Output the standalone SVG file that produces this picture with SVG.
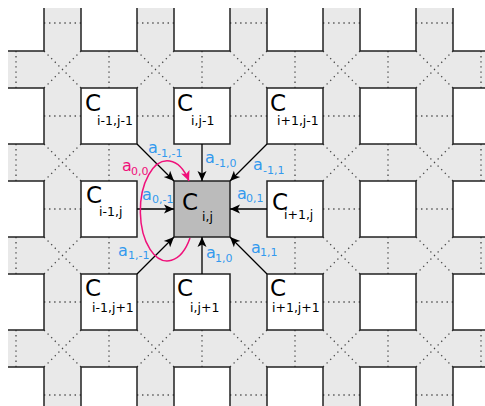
<svg xmlns="http://www.w3.org/2000/svg" xmlns:xlink="http://www.w3.org/1999/xlink" width="485" height="406" viewBox="0 0 485 406">
<style>
.cell{fill:#fff;stroke:#222;stroke-width:1.5}
.center{fill:#bbb;stroke:#222;stroke-width:1.5}
.dot{fill:none;stroke:#444;stroke-width:1.3;stroke-dasharray:1.3 3.8}
.arr{fill:none;stroke:#000;stroke-width:1.3;marker-end:url(#ah)}
.loop{fill:none;stroke:#f0107a;stroke-width:1.5;marker-end:url(#ahp)}
.C{font-family:"DejaVu Sans",sans-serif;font-size:23px;fill:#000}
.cs{font-family:"DejaVu Sans",sans-serif;font-size:12.5px;fill:#000}
.a{font-family:"DejaVu Sans",sans-serif;font-size:16px;fill:#3399ee}
.as{font-family:"DejaVu Sans",sans-serif;font-size:11px;fill:#3399ee}
.p{fill:#f0107a}
</style>
<defs>
<rect id="cr" width="56" height="56"/>
<clipPath id="clip"><rect x="8" y="8" width="477" height="398"/></clipPath>
<marker id="ah" viewBox="-11 -5 12 10" refX="0" refY="0" markerWidth="12" markerHeight="10" markerUnits="userSpaceOnUse" orient="auto"><path d="M0,0 L-10,-4.5 L-7.5,0 L-10,4.5 Z" fill="#000"/></marker>
<marker id="ahp" viewBox="-11 -5 12 10" refX="0" refY="0" markerWidth="12" markerHeight="10" markerUnits="userSpaceOnUse" orient="auto"><path d="M0,0 L-10,-4.5 L-7.5,0 L-10,4.5 Z" fill="#f0107a"/></marker>
</defs>
<g id="lattice" clip-path="url(#clip)">
<rect x="8" y="8" width="477" height="398" fill="#e9e9e9"/>
<path class="dot" d="M44 23H81M137 23H174M230 23H267M323 23H360M416 23H453
M44 116H81M137 116H174M230 116H267M323 116H360M416 116H453
M44 209H81M323 209H360M416 209H453
M44 302H81M137 302H174M230 302H267M323 302H360M416 302H453
M44 395H81M137 395H174M230 395H267M323 395H360M416 395H453
M16 51V88M16 144V181M16 237V274M16 330V367
M109 51V88M109 144V181M109 237V274M109 330V367
M202 51V88M202 330V367
M295 51V88M295 144V181M295 237V274M295 330V367
M388 51V88M388 144V181M388 237V274M388 330V367
M481 51V88M481 144V181M481 237V274M481 330V367
M44 51L81 88M81 51L44 88M137 51L174 88M174 51L137 88M230 51L267 88M267 51L230 88M323 51L360 88M360 51L323 88M416 51L453 88M453 51L416 88
M44 144L81 181M81 144L44 181M323 144L360 181M360 144L323 181M416 144L453 181M453 144L416 181
M44 237L81 274M81 237L44 274M323 237L360 274M360 237L323 274M416 237L453 274M453 237L416 274
M44 330L81 367M81 330L44 367M137 330L174 367M174 330L137 367M230 330L267 367M267 330L230 367M323 330L360 367M360 330L323 367M416 330L453 367M453 330L416 367"/>
<g class="cell">
<use xlink:href="#cr" x="-12" y="-5"/><use xlink:href="#cr" x="81" y="-5"/><use xlink:href="#cr" x="174" y="-5"/><use xlink:href="#cr" x="267" y="-5"/><use xlink:href="#cr" x="360" y="-5"/><use xlink:href="#cr" x="453" y="-5"/>
<use xlink:href="#cr" x="-12" y="88"/><use xlink:href="#cr" x="360" y="88"/><use xlink:href="#cr" x="453" y="88"/>
<use xlink:href="#cr" x="-12" y="181"/><use xlink:href="#cr" x="360" y="181"/><use xlink:href="#cr" x="453" y="181"/>
<use xlink:href="#cr" x="-12" y="274"/><use xlink:href="#cr" x="360" y="274"/><use xlink:href="#cr" x="453" y="274"/>
<use xlink:href="#cr" x="-12" y="367"/><use xlink:href="#cr" x="81" y="367"/><use xlink:href="#cr" x="174" y="367"/><use xlink:href="#cr" x="267" y="367"/><use xlink:href="#cr" x="360" y="367"/><use xlink:href="#cr" x="453" y="367"/>
</g>
</g>
<g id="n_im1_jm1"><rect class="cell" x="81" y="88" width="56" height="56"/><text class="C" x="85" y="111">C</text><text class="cs" x="97" y="125">i-1,j-1</text></g>
<g id="n_i_jm1"><rect class="cell" x="174" y="88" width="56" height="56"/><text class="C" x="177" y="111">C</text><text class="cs" x="191" y="125">i,j-1</text></g>
<g id="n_ip1_jm1"><rect class="cell" x="267" y="88" width="56" height="56"/><text class="C" x="270" y="111">C</text><text class="cs" x="277" y="125">i+1,j-1</text></g>
<g id="n_im1_j"><rect class="cell" x="81" y="181" width="56" height="56"/><text class="C" x="86" y="203">C</text><text class="cs" x="99" y="216">i-1,j</text></g>
<g id="n_i_j"><rect class="center" x="174" y="181" width="56" height="56"/><text class="C" x="182" y="210">C</text><text class="cs" x="202" y="221">i,j</text></g>
<g id="n_ip1_j"><rect class="cell" x="267" y="181" width="56" height="56"/><text class="C" x="272" y="210">C</text><text class="cs" x="284" y="219">i+1,j</text></g>
<g id="n_im1_jp1"><rect class="cell" x="81" y="274" width="56" height="56"/><text class="C" x="85" y="296">C</text><text class="cs" x="92" y="312">i-1,j+1</text></g>
<g id="n_i_jp1"><rect class="cell" x="174" y="274" width="56" height="56"/><text class="C" x="177" y="296">C</text><text class="cs" x="190" y="312">i,j+1</text></g>
<g id="n_ip1_jp1"><rect class="cell" x="267" y="274" width="56" height="56"/><text class="C" x="270" y="296">C</text><text class="cs" x="272" y="312">i+1,j+1</text></g>
<g id="connectors">
<path class="arr" d="M202 144V181"/>
<path class="arr" d="M202 274V237"/>
<path class="arr" d="M137 209H174"/>
<path class="arr" d="M267 209H230"/>
<path class="arr" d="M137 144L174 181"/>
<path class="arr" d="M267 144L230 181"/>
<path class="arr" d="M137 274L174 237"/>
<path class="arr" d="M267 274L230 237"/>
<path class="loop" d="M190 238A27 50 0 1 1 189 181"/>
</g>
<g id="labels">
<text class="a p" x="122" y="171">a</text><text class="as p" x="131" y="175">0,0</text>
<text class="a" x="148" y="153">a</text><text class="as" x="157" y="157">-1,-1</text>
<text class="a" x="142" y="200">a</text><text class="as" x="152" y="203">0,-1</text>
<text class="a" x="205" y="163">a</text><text class="as" x="215" y="167">-1,0</text>
<text class="a" x="253" y="170">a</text><text class="as" x="263" y="174">-1,1</text>
<text class="a" x="237" y="199">a</text><text class="as" x="246" y="202">0,1</text>
<text class="a" x="118" y="256">a</text><text class="as" x="128" y="259">1,-1</text>
<text class="a" x="206" y="258">a</text><text class="as" x="215" y="262">1,0</text>
<text class="a" x="251" y="253">a</text><text class="as" x="260" y="256">1,1</text>
</g>
</svg>
